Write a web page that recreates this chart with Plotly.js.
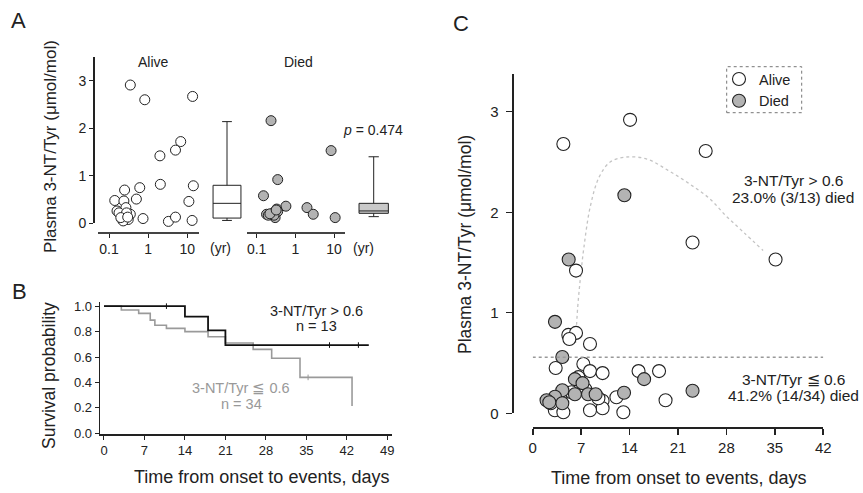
<!DOCTYPE html>
<html>
<head>
<meta charset="utf-8">
<script src="https://cdn.plot.ly/plotly-3.0.1.min.js"></script>
<style>html,body{margin:0;padding:0;background:#fff;}#chart{width:863px;height:493px;}</style>
</head>
<body>
<div id="chart"></div>
<script>
// ---------- Panel A data (years, 3-NT/Tyr) ----------
const aliveYr = [0.35,0.82,13.7,6.8,5.0,2.0,2.05,14.3,0.61,0.25,0.5,11,0.14,0.24,0.27,0.16,0.20,0.35,0.24,0.74,0.21,0.31,3.3,5.0,13.3,0.18,0.23,0.28,0.20,0.30];
const aliveA  = [2.91,2.60,2.67,1.72,1.54,1.42,0.82,0.79,0.75,0.70,0.51,0.46,0.48,0.47,0.33,0.26,0.19,0.19,0.14,0.10,0.09,0.08,0.04,0.13,0.06,0.22,0.05,0.22,0.12,0.13];
const diedYr  = [0.235,8.4,0.35,0.15,0.57,0.33,2.0,2.9,10.7,0.18,0.26,0.30,0.35,0.20,0.28,0.22,0.32];
const diedA   = [2.16,1.53,0.92,0.58,0.36,0.30,0.33,0.19,0.12,0.19,0.21,0.12,0.25,0.17,0.17,0.20,0.28];
const boxGroups = ['Alive','Died'];
const boxLow  = [0.06,0.14];
const boxQ1   = [0.11,0.21];
const boxMed  = [0.42,0.26];
const boxQ3   = [0.80,0.42];
const boxHigh = [2.14,1.40];
const yearTicks = [0.1,1,10];
const yearTickText = ['0.1','1','10'];

// ---------- Panel B data (Kaplan-Meier) ----------
const kmHighT = [0,14,18,21,45.8];
const kmHighS = [1.0,0.917,0.81,0.694,0.694];
const kmLowT  = [0,3,6,8,8.8,10.8,14,18,21,25.8,29,33.9,42.9,42.9];
const kmLowS  = [1.0,0.97,0.943,0.89,0.85,0.825,0.80,0.76,0.71,0.66,0.59,0.44,0.44,0.215];
const censHighT = [10.8,39,44];
const censHighS = [1.0,0.694,0.694];
const censLowT = [35.3];
const censLowS = [0.44];
const dayTicksB = [0,7,14,21,28,35,42,49];
const survTicks = [0,0.2,0.4,0.6,0.8,1.0];

// ---------- Panel C data (days, 3-NT/Tyr) ----------
const cAliveDay = [14.07,4.43,25.0,23.1,35.1,6.26,5.15,6.26,5.3,8.28,3.32,7.32,8.28,10.1,15.3,18.26,12.1,10.1,10.1,8.28,13.1,19.2,3.2,4.43,2.6,5.6,7.6,6.6,4.0,9.5];
const cAliveVal = [2.92,2.68,2.61,1.70,1.53,1.42,0.78,0.80,0.74,0.69,0.45,0.49,0.42,0.40,0.42,0.42,0.16,0.125,0.05,0.03,0.01,0.13,0.03,0.01,0.10,0.21,0.24,0.36,0.15,0.15];
const cDiedDay  = [13.25,5.2,3.22,4.28,6.1,16.1,7.2,4.28,23.1,13.2,6.1,8.0,9.1,3.22,2.0,4.28,2.4];
const cDiedVal  = [2.17,1.53,0.91,0.56,0.34,0.34,0.30,0.23,0.225,0.205,0.19,0.19,0.19,0.165,0.13,0.10,0.11];
const cutoff = 0.557;
const curveDay = [6.2,6.5,6.9,7.4,8.3,9.6,11.2,13.5,16.5,19.5,22.5,25.5,28.0,30.5,33.3];
const curveVal = [0.70,1.05,1.35,1.65,2.05,2.35,2.50,2.55,2.53,2.42,2.29,2.14,1.96,1.80,1.62];
const dayTicksC = [0,7,14,21,28,35,42];
const cTicks = [0,1,2,3];

// ---------- helpers (pixel -> paper) ----------
const W = 863, H = 493;
const PX = p => p / W;
const PY = p => 1 - p / H;
const FONT = 'Liberation Sans, Arial, Helvetica, sans-serif';
const INK = '#222';
const GREY = '#b3b3b3';

const aliveMarkerA = {size:10, color:'#fff', line:{color:INK, width:1}};
const diedMarkerA  = {size:10, color:GREY, line:{color:INK, width:1}};
const aliveMarkerC = {size:13, color:'#fff', line:{color:INK, width:1.1}};
const diedMarkerC  = {size:13, color:GREY, line:{color:INK, width:1.1}};

const traces = [
  // Panel A scatter
  {type:'scatter', mode:'markers', x:aliveYr, y:aliveA, xaxis:'x', yaxis:'y', marker:aliveMarkerA, cliponaxis:false, showlegend:false},
  {type:'scatter', mode:'markers', x:diedYr, y:diedA, xaxis:'x2', yaxis:'y', marker:diedMarkerA, cliponaxis:false, showlegend:false},
  // Panel A boxes
  {type:'box', x:[0], q1:[boxQ1[0]], median:[boxMed[0]], q3:[boxQ3[0]], lowerfence:[boxLow[0]], upperfence:[boxHigh[0]],
   name:boxGroups[0], xaxis:'x3', yaxis:'y', width:0.19, whiskerwidth:0.35, fillcolor:'#fff', line:{color:INK, width:1}, showlegend:false, hoverinfo:'skip'},
  {type:'box', x:[1], q1:[boxQ1[1]], median:[boxMed[1]], q3:[boxQ3[1]], lowerfence:[boxLow[1]], upperfence:[boxHigh[1]],
   name:boxGroups[1], xaxis:'x3', yaxis:'y', width:0.2, whiskerwidth:0.35, fillcolor:'#c9c9c9', line:{color:INK, width:1}, showlegend:false, hoverinfo:'skip'},
  // Panel B KM curves
  {type:'scatter', mode:'lines', x:kmLowT, y:kmLowS, xaxis:'x4', yaxis:'y4', line:{shape:'hv', color:'#9a9a9a', width:1.6}, showlegend:false},
  {type:'scatter', mode:'lines', x:kmHighT, y:kmHighS, xaxis:'x4', yaxis:'y4', line:{shape:'hv', color:'#111', width:1.8}, showlegend:false},
  {type:'scatter', mode:'markers', x:censHighT, y:censHighS, xaxis:'x4', yaxis:'y4', marker:{symbol:'line-ns-open', size:4, color:'#111', line:{color:'#111', width:1}}, showlegend:false},
  {type:'scatter', mode:'markers', x:censLowT, y:censLowS, xaxis:'x4', yaxis:'y4', marker:{symbol:'line-ns-open', size:4, color:'#9a9a9a', line:{color:'#9a9a9a', width:1}}, showlegend:false},
  // Panel C curve
  {type:'scatter', mode:'lines', x:curveDay, y:curveVal, xaxis:'x5', yaxis:'y5', line:{shape:'spline', color:'#c4c4c4', width:1.3, dash:'dot'}, showlegend:false, cliponaxis:false},
  // Panel C scatter
  {type:'scatter', mode:'markers', name:'Alive', x:cAliveDay, y:cAliveVal, xaxis:'x5', yaxis:'y5', marker:aliveMarkerC, cliponaxis:false, showlegend:true},
  {type:'scatter', mode:'markers', name:'Died', x:cDiedDay, y:cDiedVal, xaxis:'x5', yaxis:'y5', marker:diedMarkerC, cliponaxis:false, showlegend:true}
];

const axisBase = {showgrid:false, zeroline:false, showline:true, linecolor:INK, ticks:'outside', tickcolor:INK, fixedrange:true};

function label(text, x, y, opts) {
  return Object.assign({text:text, x:PX(x), y:PY(y), xref:'paper', yref:'paper', showarrow:false,
    xanchor:'center', yanchor:'middle', font:{size:14}}, opts || {});
}

const layout = {
  width: W, height: H,
  margin:{l:0, r:0, t:0, b:0},
  paper_bgcolor:'#fff', plot_bgcolor:'rgba(0,0,0,0)',
  font:{family:FONT, color:INK, size:14},
  // Panel A
  yaxis: Object.assign({}, axisBase, {domain:[PY(223.3), PY(57)], range:[0,3.5], anchor:'free', position:PX(93),
          tickvals:cTicks, ticklen:4, linewidth:1.5, tickwidth:1.2, tickfont:{size:14}}),
  xaxis: Object.assign({}, axisBase, {type:'log', domain:[PX(98), PX(199)], range:[-1.282,1.30], anchor:'free', position:PY(232),
          tickvals:yearTicks, ticktext:yearTickText, ticklen:4, linewidth:1.5, linecolor:'#444', tickfont:{size:14}}),
  xaxis2: Object.assign({}, axisBase, {type:'log', domain:[PX(247), PX(345)], range:[-1.25,1.284], anchor:'free', position:PY(232),
          tickvals:yearTicks, ticktext:yearTickText, ticklen:4, linewidth:1.5, linecolor:'#444', tickfont:{size:14}}),
  xaxis3: {domain:[PX(153.65), PX(447.05)], range:[-0.5,1.5], anchor:'y', visible:false, fixedrange:true},
  // Panel B
  xaxis4: Object.assign({}, axisBase, {domain:[PX(100), PX(391.7)], range:[-0.69,49.76], anchor:'y4',
          tickvals:dayTicksB, ticklen:4, linewidth:1.6, tickfont:{size:13}}),
  yaxis4: Object.assign({}, axisBase, {domain:[PY(434), PY(301.7)], range:[-0.005,1.035], anchor:'x4',
          tickvals:survTicks, tickformat:'.1f', ticklen:4, linewidth:1.4, tickfont:{size:13}}),
  // Panel C
  xaxis5: Object.assign({}, axisBase, {domain:[PX(532.7), PX(823.3)], range:[0,42], anchor:'free', position:PY(427),
          tickvals:dayTicksC, ticklen:6, linewidth:1.6, tickwidth:1.6, tickfont:{size:15}}),
  yaxis5: Object.assign({}, axisBase, {domain:[PY(413.3), PY(74)], range:[0,3.376], anchor:'free', position:PX(512.7),
          tickvals:cTicks, ticklen:6, linewidth:2, tickwidth:1.4, tickfont:{size:15}, ticklabelstandoff:4}),
  showlegend:true,
  legend:{x:PX(719), y:PY(63), xanchor:'left', yanchor:'top', bgcolor:'rgba(0,0,0,0)', borderwidth:0,
          font:{size:14.5, family:FONT, color:INK}, tracegroupgap:0, itemwidth:30},
  shapes:[
    {type:'rect', xref:'paper', yref:'paper', x0:PX(726.7), x1:PX(801.7), y0:PY(112.7), y1:PY(66.7),
     line:{color:'#777', width:1, dash:'dot'}},
    {type:'line', xref:'x5', yref:'y5', x0:0, x1:42, y0:cutoff, y1:cutoff, line:{color:'#999', width:1.4, dash:'dot'}}
  ],
  annotations:[
    // panel letters
    label('A', 18, 20, {font:{size:22}}),
    label('B', 19, 291, {font:{size:22}}),
    label('C', 461, 23, {font:{size:22}}),
    // panel A texts
    label('Plasma 3-NT/Tyr (μmol/mol)', 50, 147, {textangle:-90, font:{size:17}}),
    label('Alive', 153, 62),
    label('Died', 298, 62),
    label('(yr)', 220, 248),
    label('(yr)', 363, 248),
    label('<i>p</i> = 0.474', 373, 130),
    // panel B texts
    label('Survival probability', 49, 376, {textangle:-90, font:{size:17.5}}),
    label('Time from onset to events, days', 261, 477, {font:{size:18}}),
    label('3-NT/Tyr > 0.6', 316, 311, {font:{size:14.5}}),
    label('n = 13', 316, 326, {font:{size:14.5}}),
    label('3-NT/Tyr ≦ 0.6', 241, 388, {font:{size:14.5, color:'#999'}}),
    label('n = 34', 241, 404, {font:{size:14.5, color:'#999'}}),
    // panel C texts
    label('Plasma 3-NT/Tyr (μmol/mol)', 465, 245, {textangle:-90, font:{size:17.5}}),
    label('Time from onset to events, days', 678, 478, {font:{size:18}}),
    label('3-NT/Tyr > 0.6', 794, 180, {font:{size:15.5}}),
    label('23.0% (3/13) died', 793, 197, {font:{size:15.5}}),
    label('3-NT/Tyr ≦ 0.6', 793, 379, {font:{size:15.5}}),
    label('41.2% (14/34) died', 793, 395, {font:{size:15.5}})
  ]
};

Plotly.newPlot('chart', traces, layout, {staticPlot:true, displayModeBar:false});
</script>
</body>
</html>
